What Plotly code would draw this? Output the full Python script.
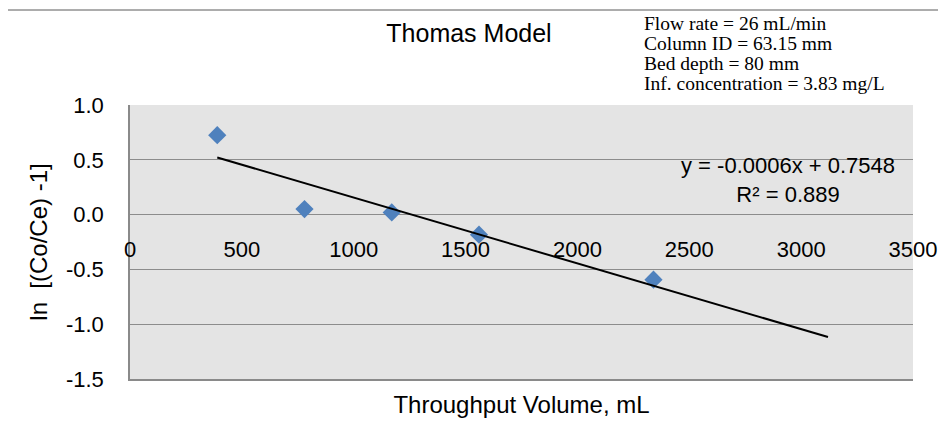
import plotly.graph_objects as go

# Data
throughput_ml = [390, 780, 1170, 1560, 2340]
ln_ratio = [0.725, 0.05, 0.02, -0.183, -0.594]
trend_slope = -0.0006
trend_intercept = 0.7548
trend_x = [390, 3120]
trend_y = [trend_slope * v + trend_intercept for v in trend_x]
x_ticks = [0, 500, 1000, 1500, 2000, 2500, 3000, 3500]
y_ticks = [-1.5, -1.0, -0.5, 0.0, 0.5, 1.0]
info_lines = ["Flow rate = 26 mL/min", "Column ID = 63.15 mm",
              "Bed depth = 80 mm", "Inf. concentration = 3.83 mg/L"]
equation_text = "y = -0.0006x + 0.7548<br>R² = 0.889"

W, H = 938, 422
L, R, T, B = 130, 25, 105, 43
SANS = "Liberation Sans, Arial, sans-serif"
SERIF = "Liberation Serif, Times New Roman, serif"

fig = go.Figure()
# markers on the base x axis, trend line on the overlaying axis (drawn on top)
fig.add_trace(go.Scatter(
    x=throughput_ml, y=ln_ratio, mode="markers", xaxis="x",
    marker=dict(symbol="diamond", size=14, color="#4F81BD"),
    showlegend=False))
fig.add_trace(go.Scatter(
    x=trend_x, y=trend_y, mode="lines", xaxis="x2",
    line=dict(color="black", width=2), hoverinfo="skip", showlegend=False))

pw = W - L - R
ph = H - T - B

def px_x(p):
    return (p - L) / pw

def px_y(p):
    return (H - B - p) / ph

annotations = []
for i, line in enumerate(info_lines):
    annotations.append(dict(
        text=line, xref="paper", yref="paper",
        x=px_x(642), y=px_y(24 + i * 19.7), xanchor="left", yanchor="middle",
        showarrow=False, font=dict(family=SERIF, size=19.5, color="black")))
annotations.append(dict(
    text=equation_text, xref="paper", yref="paper",
    x=px_x(788), y=px_y(180), xanchor="center", yanchor="middle",
    showarrow=False, align="center",
    font=dict(family=SANS, size=22, color="black")))

fig.update_layout(
    width=W, height=H,
    margin=dict(l=L, r=R, t=T, b=B, autoexpand=False),
    paper_bgcolor="white",
    plot_bgcolor="#e4e4e4",
    title=dict(text="Thomas Model", x=0.5, xref="container", xanchor="center",
               y=1 - 33 / H, yref="container", yanchor="middle",
               font=dict(family=SANS, size=25, color="black")),
    xaxis=dict(range=[0, 3500], showgrid=False, zeroline=False,
               showticklabels=False, ticks="",
               showline=True, linecolor="#8a8a8a", linewidth=2,
               title=dict(text="Throughput Volume, mL", standoff=16,
                          font=dict(family=SANS, size=24, color="black"))),
    xaxis2=dict(range=[0, 3500], overlaying="x", anchor="free",
                position=0.6, side="bottom",
                tickvals=x_ticks, ticktext=[str(v) for v in x_ticks],
                showgrid=False, zeroline=False, showline=False, ticks="",
                ticklabelstandoff=19,
                tickfont=dict(family=SANS, size=22, color="black")),
    yaxis=dict(range=[-1.5, 1.0], tickvals=y_ticks,
               ticktext=[f"{v:.1f}" for v in y_ticks],
               showgrid=True, gridcolor="#8c8c8c", gridwidth=1,
               zeroline=False, ticks="",
               showline=True, linecolor="#8a8a8a", linewidth=1.5,
               ticklabelstandoff=20,
               tickfont=dict(family=SANS, size=22, color="black"),
               title=dict(text="ln\u00a0\u00a0[(Co/Ce) -1]", standoff=12,
                          font=dict(family=SANS, size=24, color="black"))),
    annotations=annotations,
    shapes=[dict(type="line", xref="paper", yref="paper",
                 x0=px_x(8), x1=px_x(938), y0=px_y(10), y1=px_y(10),
                 line=dict(color="#5a5a5a", width=1))],
)

fig.write_html("out.html")
